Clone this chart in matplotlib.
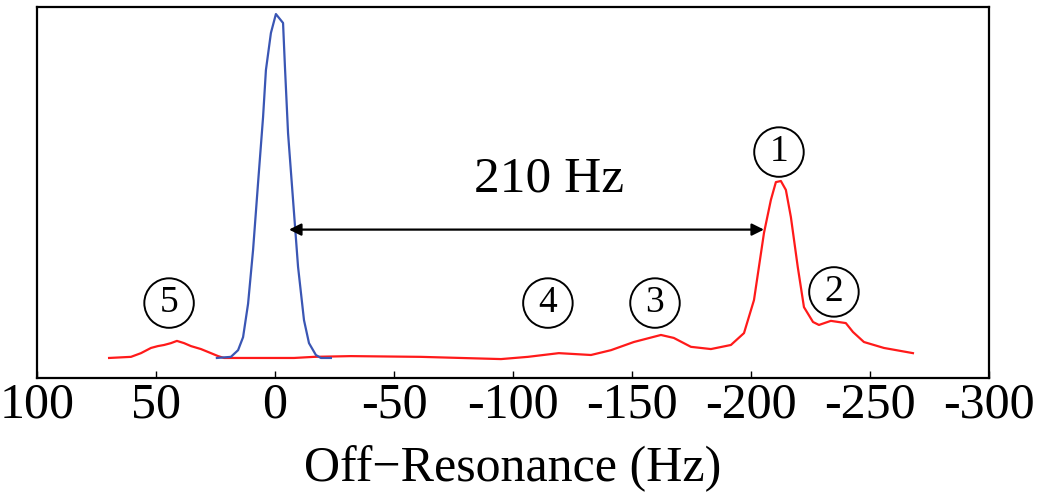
import matplotlib
matplotlib.use('Agg')
import matplotlib.pyplot as plt

plt.rcParams['font.family'] = ['Liberation Serif', 'DejaVu Serif']
plt.rcParams['axes.unicode_minus'] = False

# reference (water) peak, blue
ref_hz = [24.4, 18.5, 15.5, 13.4, 11.3, 9.2, 7.1, 5.0, 3.8, 1.7, -0.4, -3.4, -4.2,
          -5.5, -7.6, -9.7, -12.2, -14.3, -17.2, -19.3, -23.5]
ref_sig = [0.054, 0.057, 0.075, 0.11, 0.20, 0.345, 0.526, 0.703, 0.83, 0.93, 0.981,
           0.957, 0.838, 0.66, 0.48, 0.30, 0.156, 0.094, 0.062, 0.054, 0.054]

# fat spectrum, red
fat_hz = [69.7, 60.5, 56.3, 52.1, 49.2, 46.6, 43.7, 41.2, 38.2, 35.3, 31.1, 26.9, 23.9,
          21.4, -8.0, -16.4, -31.9, -61.3, -95.0, -106.3, -119.3, -132.8, -141.2, -150.8,
          -162.2, -167.6, -174.8, -183.2, -191.6, -197.1, -201.3, -205.5, -208.4, -210.5,
          -212.6, -214.7, -216.8, -219.7, -222.3, -226.1, -228.6, -233.6, -239.9, -242.9,
          -247.5, -255.9, -268.1]
fat_sig = [0.054, 0.057, 0.067, 0.081, 0.086, 0.089, 0.094, 0.100, 0.094, 0.086, 0.078,
           0.067, 0.059, 0.054, 0.054, 0.057, 0.059, 0.057, 0.051, 0.057, 0.067, 0.062,
           0.075, 0.097, 0.116, 0.108, 0.084, 0.078, 0.089, 0.121, 0.21, 0.391, 0.48,
           0.528, 0.531, 0.507, 0.434, 0.299, 0.191, 0.151, 0.143, 0.154, 0.148, 0.124,
           0.097, 0.081, 0.067]

# circled peak labels
peak_labels = ['1', '2', '3', '4', '5']
peak_hz = [-211.8, -234.9, -159.7, -114.7, 44.5]
peak_y = [0.609, 0.232, 0.202, 0.202, 0.202]

xticks = [100, 50, 0, -50, -100, -150, -200, -250, -300]
xtick_labels = ['100', '50', '0', '-50', '-100', '-150', '-200', '-250', '-300']

arrow_from, arrow_to, arrow_y = -205.5, -5.9, 0.40
shift_text = '210 Hz'

fig = plt.figure(figsize=(10.42, 5.0), dpi=100)
ax = fig.add_axes([0.0355, 0.244, 0.9135, 0.742])

ax.plot(fat_hz, fat_sig, '-', color='#ff1a1a', linewidth=1.6, zorder=2)
ax.plot(ref_hz, ref_sig, '-', color='#3a56b4', linewidth=1.6, zorder=3)

for lab, hx, hy in zip(peak_labels, peak_hz, peak_y):
    ax.text(hx, hy, lab, fontsize=27, ha='center', va='center',
            bbox=dict(boxstyle='circle,pad=0.2', facecolor='none',
                      edgecolor='black', linewidth=1.4))

ax.annotate('', xy=(arrow_to, arrow_y), xytext=(arrow_from, arrow_y),
            arrowprops=dict(arrowstyle='<|-|>', color='black', lw=1.6,
                            mutation_scale=18, shrinkA=0, shrinkB=0))
ax.text(-115, 0.535, shift_text, fontsize=37, ha='center', va='center')

ax.set_xlim(100, -300)
ax.set_ylim(0, 1)
ax.set_xticks(xticks)
ax.set_xticklabels(xtick_labels)
ax.set_yticks([])
ax.tick_params(axis='x', direction='in', length=5, width=1, labelsize=36, pad=3)
ax.set_xlabel('Off\u2212Resonance (Hz)', fontsize=36, labelpad=12)
for sp in ax.spines.values():
    sp.set_linewidth(1.6)

plt.savefig('out.png', dpi=100)
plt.close()
